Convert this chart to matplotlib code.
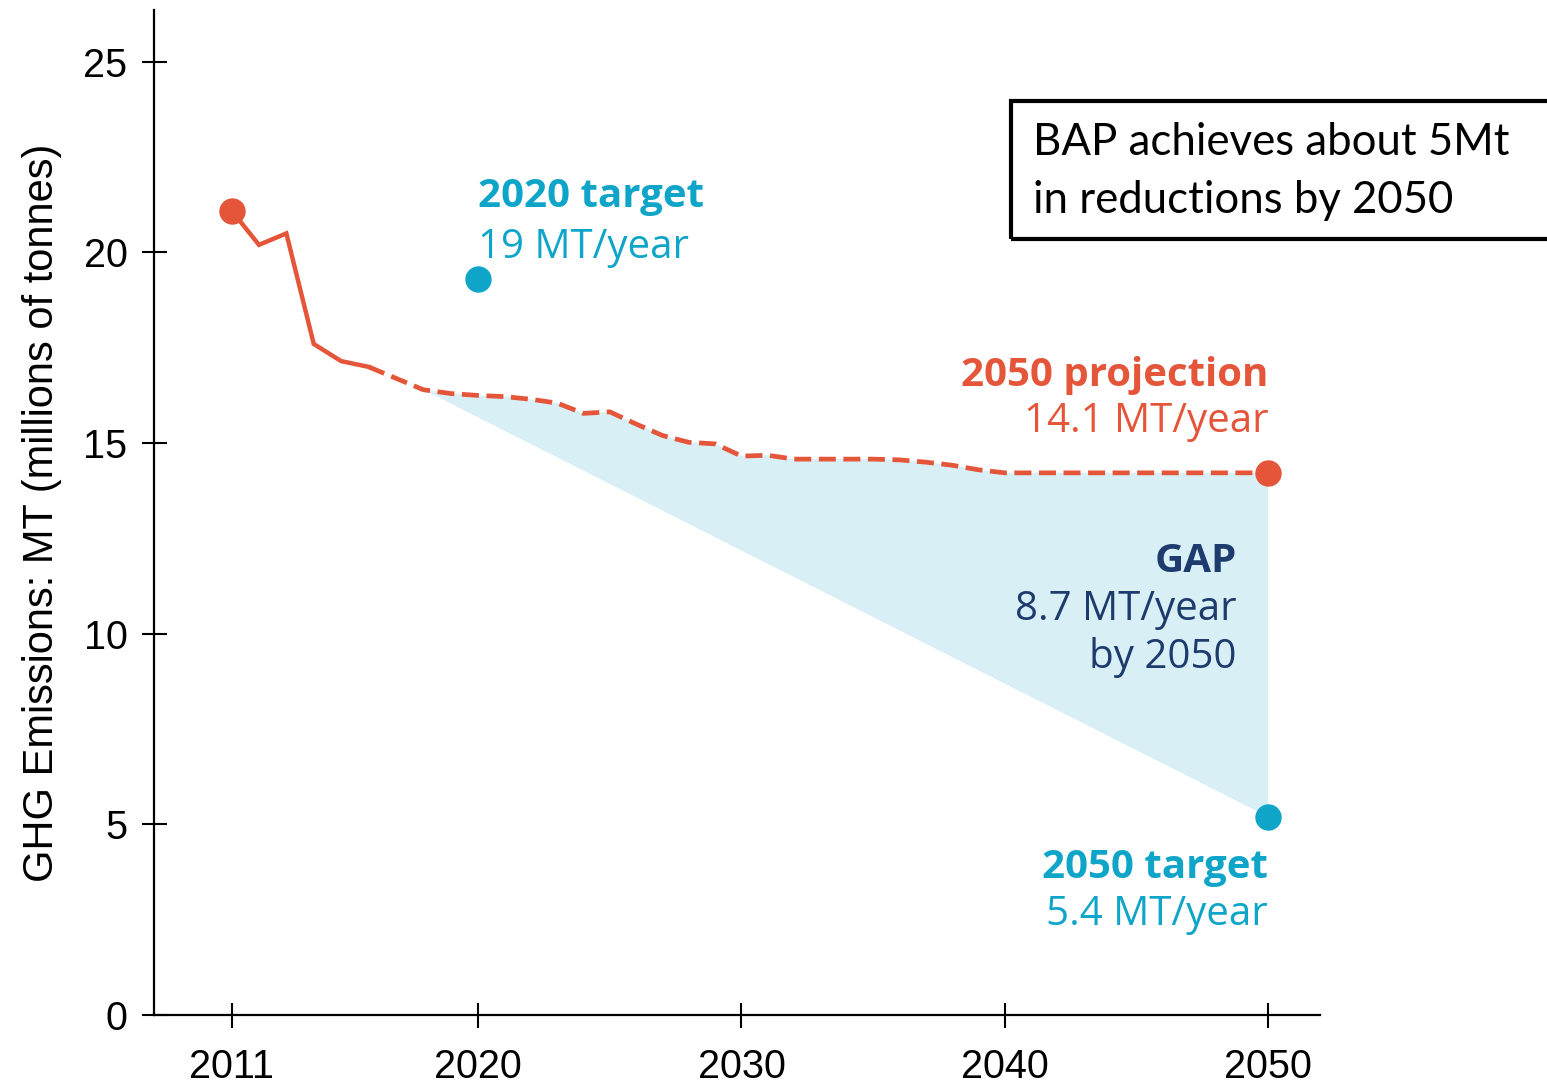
import numpy as np
import matplotlib.pyplot as plt
from matplotlib.patches import Rectangle

# emissions, MT per year
hist_years = [2011, 2012, 2013, 2014, 2015, 2016]
hist_vals = [21.1, 20.2, 20.5, 17.6, 17.15, 17.0]

proj_years = list(range(2016, 2041)) + [2050]
proj_vals = [17.0, 16.7, 16.4, 16.3, 16.25, 16.22, 16.15, 16.05, 15.78, 15.82,
             15.5, 15.2, 15.02, 14.98, 14.66, 14.68, 14.58, 14.58, 14.58, 14.58,
             14.56, 14.5, 14.42, 14.3, 14.22, 14.22]

target_years = [2020, 2050]
target_vals = [19.3, 5.2]

gap_start = 2018
xticks = [2011, 2020, 2030, 2040, 2050]
yticks = [0, 5, 10, 15, 20, 25]

box_lines = ['BAP achieves about 5Mt', 'in reductions by 2050']

ORANGE = '#e4553a'
TEAL = '#0fa5c9'
NAVY = '#1e3b6e'
FILL = '#d8eff5'

# 2011-2020 is drawn a bit wider per year than 2020-2050
K = 27.4 / 26.33
def fwd(x):
    x = np.asarray(x, float)
    return np.where(x < 2020, 2020 + (x - 2020) * K, x)
def inv(x):
    x = np.asarray(x, float)
    return np.where(x < 2020, 2020 + (x - 2020) / K, x)

fig = plt.figure(figsize=(15.47, 10.91), dpi=100)
ax = fig.add_axes([154 / 1547, 1 - 1015 / 1091, 1166 / 1547, 1005 / 1091])
ax.set_xscale('function', functions=(fwd, inv))
ax.set_xlim(2008.17, 2051.97)
ax.set_ylim(0, 26.36)

# gap polygon between projection and straight path to target
gx = [y for y in proj_years if y >= gap_start]
gy = [v for y, v in zip(proj_years, proj_vals) if y >= gap_start]
ax.fill(gx + [target_years[1]], gy + [target_vals[1]], color=FILL, lw=0, zorder=1)

ax.plot(hist_years, hist_vals, color=ORANGE, lw=3.2, zorder=2, solid_joinstyle='miter')
ax.plot(proj_years, proj_vals, color=ORANGE, lw=3.4, dashes=(3.6, 1.6), zorder=2)
ax.plot([hist_years[0], proj_years[-1]], [hist_vals[0], proj_vals[-1]], 'o',
        color=ORANGE, ms=18, zorder=3)
ax.plot(target_years, target_vals, 'o', color=TEAL, ms=18, zorder=3)

lab = dict(family='Open Sans', fontsize=29)
ax.text(2020, 21.2, '2020 target', color=TEAL, fontweight='bold', ha='left', va='baseline', **lab)
ax.text(2020, 19.86, '19 MT/year', color=TEAL, ha='left', va='baseline', **lab)
ax.text(2050, 16.5, '2050 projection', color=ORANGE, fontweight='bold', ha='right', va='baseline', **lab)
ax.text(2050, 15.29, '14.1 MT/year', color=ORANGE, ha='right', va='baseline', **lab)
ax.text(2048.8, 11.62, 'GAP', color=NAVY, fontweight='bold', ha='right', va='baseline', **lab)
ax.text(2048.8, 10.36, '8.7 MT/year', color=NAVY, ha='right', va='baseline', **lab)
ax.text(2048.8, 9.1, 'by 2050', color=NAVY, ha='right', va='baseline', **lab)
ax.text(2050, 3.6, '2050 target', color=TEAL, fontweight='bold', ha='right', va='baseline', **lab)
ax.text(2050, 2.36, '5.4 MT/year', color=TEAL, ha='right', va='baseline', **lab)

ax.set_xticks(xticks)
ax.set_xticklabels([str(t) for t in xticks])
ax.set_yticks(yticks)
ax.tick_params(direction='inout', length=18, width=1.5, labelsize=28.5, color='black')
ax.tick_params(axis='x', pad=15)
ax.tick_params(axis='y', pad=10)
for t in ax.get_xticklabels() + ax.get_yticklabels():
    t.set_family('Liberation Sans')
for s in ['top', 'right']:
    ax.spines[s].set_visible(False)
for s in ['left', 'bottom']:
    ax.spines[s].set_linewidth(1.6)

ax.set_ylabel('GHG Emissions: MT (millions of tonnes)', family='Liberation Sans', fontsize=30)
ax.yaxis.set_label_coords(-0.079, 0.5)

fig.patches.append(Rectangle((1011 / 1547, 1 - 239 / 1091), 0.4, 138 / 1091,
                             transform=fig.transFigure, fill=False, lw=3,
                             edgecolor='black', clip_on=False))
for i, line in enumerate(box_lines):
    fig.text(1033 / 1547, 1 - (155 + 58 * i) / 1091, line, family='Lato',
             fontsize=31.5, va='baseline', ha='left')

fig.savefig('out.png', dpi=100, facecolor='white')
